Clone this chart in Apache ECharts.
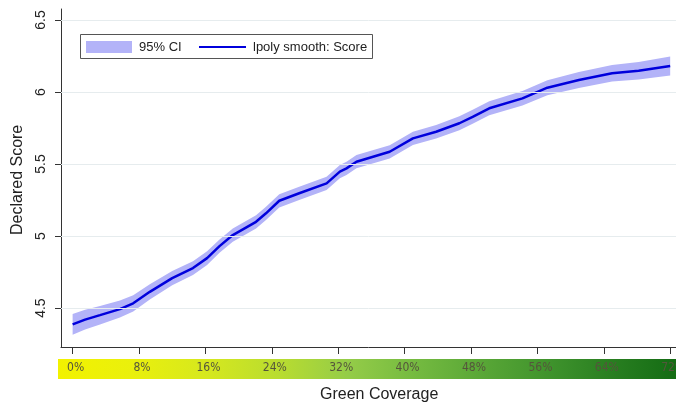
<!DOCTYPE html>
<html>
<head>
<meta charset="utf-8">
<script src="https://cdn.jsdelivr.net/npm/echarts@6/dist/echarts.min.js"></script>
<style>
  html, body { margin: 0; padding: 0; background: #fff; }
  #chart { width: 676px; height: 407px; }
</style>
</head>
<body>
<div id="chart"></div>
<script>
// Local polynomial smooth of declared score against green coverage (%)
const coverage = [0, 1.5, 3.3, 5.7, 7.3, 9.3, 12, 14.5, 16.2, 17.7, 19.3, 22.1, 23.3, 24.9, 27.3, 30.6, 32.2, 33, 34.2, 38.2, 41, 43.8, 46.6, 48.2, 50.2, 54.2, 57.2, 61, 65, 68.2, 72];
const score    = [4.387, 4.42, 4.451, 4.493, 4.533, 4.613, 4.708, 4.778, 4.847, 4.93, 5.007, 5.099, 5.158, 5.245, 5.297, 5.366, 5.447, 5.47, 5.516, 5.585, 5.678, 5.724, 5.783, 5.828, 5.887, 5.956, 6.03, 6.083, 6.13, 6.148, 6.181];
// 95% confidence band
const ciLow    = [4.315, 4.352, 4.387, 4.434, 4.477, 4.560, 4.658, 4.730, 4.800, 4.884, 4.961, 5.053, 5.112, 5.199, 5.251, 5.320, 5.401, 5.424, 5.470, 5.539, 5.632, 5.677, 5.735, 5.780, 5.838, 5.906, 5.978, 6.028, 6.072, 6.087, 6.115];
const ciHigh   = [4.459, 4.488, 4.515, 4.552, 4.589, 4.666, 4.758, 4.826, 4.894, 4.976, 5.053, 5.145, 5.204, 5.291, 5.343, 5.412, 5.493, 5.516, 5.562, 5.631, 5.724, 5.771, 5.831, 5.876, 5.936, 6.006, 6.082, 6.138, 6.188, 6.209, 6.247];
// Axis ticks
const xTicks = [0, 8, 16, 24, 32, 40, 48, 56, 64, 72];
const yTicks = [4.5, 5, 5.5, 6, 6.5];

const bandColor = '#b3b3f8';
const lineColor = '#0000dc';
const font = "'Liberation Sans', Arial, sans-serif";

const chart = echarts.init(document.getElementById('chart'), null, { renderer: 'canvas' });

// Confidence band as one polygon: upper edge left-to-right, lower edge back
function renderBand(params, api) {
  if (params.dataIndex !== 0) return null;
  const upper = coverage.map((x, i) => api.coord([x, ciHigh[i]]));
  const lower = coverage.map((x, i) => api.coord([x, ciLow[i]])).reverse();
  return {
    type: 'polygon',
    shape: { points: upper.concat(lower) },
    style: { fill: bandColor, stroke: null }
  };
}

chart.setOption({
  animation: false,
  grid: { left: 61, right: 0, top: 9, bottom: 60, containLabel: false, outerBoundsMode: 'none' },
  xAxis: {
    type: 'value',
    min: -1.4,
    max: 72.7,
    axisLine: { show: true, onZero: false, lineStyle: { color: '#333', width: 1 } },
    axisTick: { show: true, customValues: xTicks, length: 7, lineStyle: { color: '#333' } },
    axisLabel: {
      customValues: xTicks,
      formatter: v => v + '%',
      margin: 15,
      padding: [0, 0, 0, 6],
      color: '#55553c',
      fontSize: 12,
      hideOverlap: false,
      fontFamily: "'Liberation Sans Narrow', 'DejaVu Sans Condensed', sans-serif"
    },
    splitLine: { show: false }
  },
  yAxis: {
    type: 'value',
    min: 4.23,
    max: 6.576,
    axisLine: { show: true, onZero: false, lineStyle: { color: '#333', width: 1 } },
    axisTick: { show: true, customValues: yTicks, length: 6, lineStyle: { color: '#333' } },
    axisLabel: {
      customValues: yTicks,
      formatter: v => String(v),
      rotate: 90,
      margin: 13,
      color: '#222',
      fontSize: 14,
      fontFamily: font
    },
    splitLine: { show: false }
  },
  graphic: [
    {
      type: 'rect',
      z: -10,
      shape: { x: 58, y: 359, width: 618, height: 20 },
      style: {
        fill: new echarts.graphic.LinearGradient(0, 0, 1, 0, [
          { offset: 0.00, color: '#f2f200' },
          { offset: 0.12, color: '#eaf00c' },
          { offset: 0.24, color: '#d6e81e' },
          { offset: 0.36, color: '#b8dc30' },
          { offset: 0.47, color: '#94cc48' },
          { offset: 0.58, color: '#74ba40' },
          { offset: 0.69, color: '#58a636' },
          { offset: 0.80, color: '#3e922c' },
          { offset: 0.90, color: '#287e20' },
          { offset: 1.00, color: '#146c14' }
        ])
      }
    },
    {
      type: 'text',
      left: 320, top: 387,
      style: { text: 'Green Coverage', fontSize: 16, fontFamily: font, fill: '#222' }
    },
    {
      type: 'text',
      rotation: Math.PI / 2,
      x: 10, y: 235,
      style: { text: 'Declared Score', fontSize: 16, fontFamily: font, fill: '#222' }
    },
    // Legend box
    {
      type: 'group',
      z: 20,
      children: [
        { type: 'rect', shape: { x: 80.5, y: 34.5, width: 292, height: 24 },
          style: { fill: '#fff', stroke: '#555', lineWidth: 1 } },
        { type: 'rect', shape: { x: 86, y: 41, width: 46, height: 12 },
          style: { fill: bandColor } },
        { type: 'text', x: 139, y: 47,
          style: { text: '95% CI', fontSize: 13, fontFamily: font, fill: '#222', verticalAlign: 'middle' } },
        { type: 'line', shape: { x1: 199, y1: 47, x2: 246, y2: 47 },
          style: { stroke: lineColor, lineWidth: 2 } },
        { type: 'text', x: 253, y: 47,
          style: { text: 'lpoly smooth: Score', fontSize: 13, fontFamily: font, fill: '#222', verticalAlign: 'middle' } }
      ]
    }
  ],
  series: [
    {
      name: 'gridlines',
      type: 'line',
      z: 0,
      symbol: 'none',
      lineStyle: { opacity: 0 },
      data: coverage.map((x, i) => [x, score[i]]),
      markLine: {
        silent: true,
        symbol: ['none', 'none'],
        label: { show: false },
        lineStyle: { color: '#e6ecee', width: 1, type: 'solid' },
        data: yTicks.map(v => ({ yAxis: v }))
      }
    },
    {
      name: '95% CI',
      type: 'custom',
      z: 2,
      renderItem: renderBand,
      encode: { x: 0, y: [1, 2] },
      data: coverage.map((x, i) => [x, ciLow[i], ciHigh[i]])
    },
    {
      name: 'lpoly smooth: Score',
      type: 'line',
      z: 3,
      symbol: 'none',
      itemStyle: { color: lineColor },
      lineStyle: { color: lineColor, width: 2.5 },
      data: coverage.map((x, i) => [x, score[i]])
    }
  ]
});
</script>
</body>
</html>
